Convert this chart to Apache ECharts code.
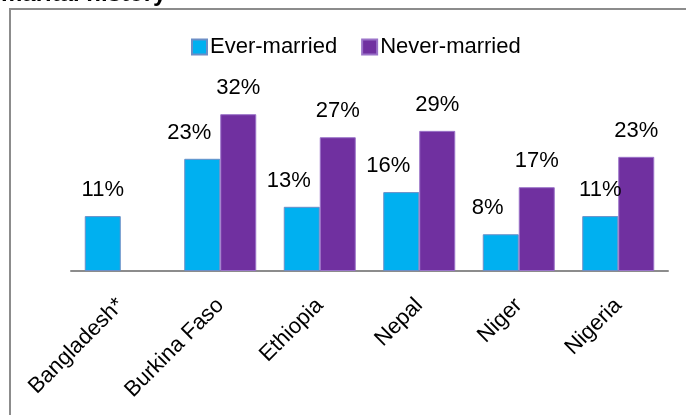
<!DOCTYPE html>
<html>
<head>
<meta charset="utf-8">
<script src="https://cdn.jsdelivr.net/npm/echarts@6/dist/echarts.min.js"></script>
<style>
html,body{margin:0;padding:0;background:#fff;}
#chart{width:686px;height:415px;}
</style>
</head>
<body>
<div id="chart"></div>
<script>
const categories = ['Bangladesh*', 'Burkina Faso', 'Ethiopia', 'Nepal', 'Niger', 'Nigeria'];
const everMarried = [11.2, 22.9, 13.1, 16.1, 7.5, 11.2];
const neverMarried = [null, 32.0, 27.3, 28.6, 17.1, 23.3];
const seriesNames = ['Ever-married', 'Never-married'];
const titleText = 'marital history';

const FONT = '"Liberation Sans", Arial, sans-serif';
const chart = echarts.init(document.getElementById('chart'), null, {renderer: 'canvas'});
const labelCfg = {
  show: true,
  position: 'top',
  distance: 15,
  fontFamily: FONT,
  fontSize: 22,
  color: '#000',
  formatter: p => Math.round(p.value) + '%'
};
// in the original, some ever-married labels were nudged left of their bars
const shiftedLabels = new Set(['Burkina Faso', 'Ethiopia', 'Nepal', 'Niger']);
const everData = everMarried.map((v, i) => shiftedLabels.has(categories[i])
  ? {value: v, label: {offset: [-13, 0]}} : v);

chart.setOption({
  animation: false,
  backgroundColor: '#fff',
  graphic: [
    {type: 'rect', shape: {x: 10, y: 9, width: 700, height: 420}, style: {fill: 'none', stroke: '#8c8c8c', lineWidth: 2}, z: 0},
    {type: 'text', x: 1, y: 6, style: {text: titleText, font: 'bold 24px ' + FONT, fill: '#000', verticalAlign: 'bottom'}}
  ],
  legend: {
    top: 31, left: 186,
    itemWidth: 15, itemHeight: 15, itemGap: 24,
    icon: 'rect',
    textStyle: {fontFamily: FONT, fontSize: 22, color: '#000', padding: [0, 0, 0, -2]},
    data: seriesNames
  },
  grid: {left: 71, right: 18, top: 75, bottom: 144, containLabel: false},
  xAxis: {
    type: 'category',
    data: categories,
    axisLine: {lineStyle: {color: '#8c8c8c', width: 2}},
    axisTick: {show: false},
    axisLabel: {rotate: 45, margin: 31, fontFamily: FONT, fontSize: 22, color: '#000', interval: 0}
  },
  yAxis: {
    type: 'value', min: 0, max: 40,
    show: false,
    splitLine: {show: false}
  },
  series: [
    {name: seriesNames[0], type: 'bar', data: everData, barWidth: 36, barGap: '0%',
     itemStyle: {color: '#00B0F0', borderColor: '#6C8EC6', borderWidth: 1}, label: labelCfg},
    {name: seriesNames[1], type: 'bar', data: neverMarried, barWidth: 36,
     itemStyle: {color: '#7030A0', borderColor: '#9A72C8', borderWidth: 1}, label: labelCfg}
  ]
});
</script>
</body>
</html>
